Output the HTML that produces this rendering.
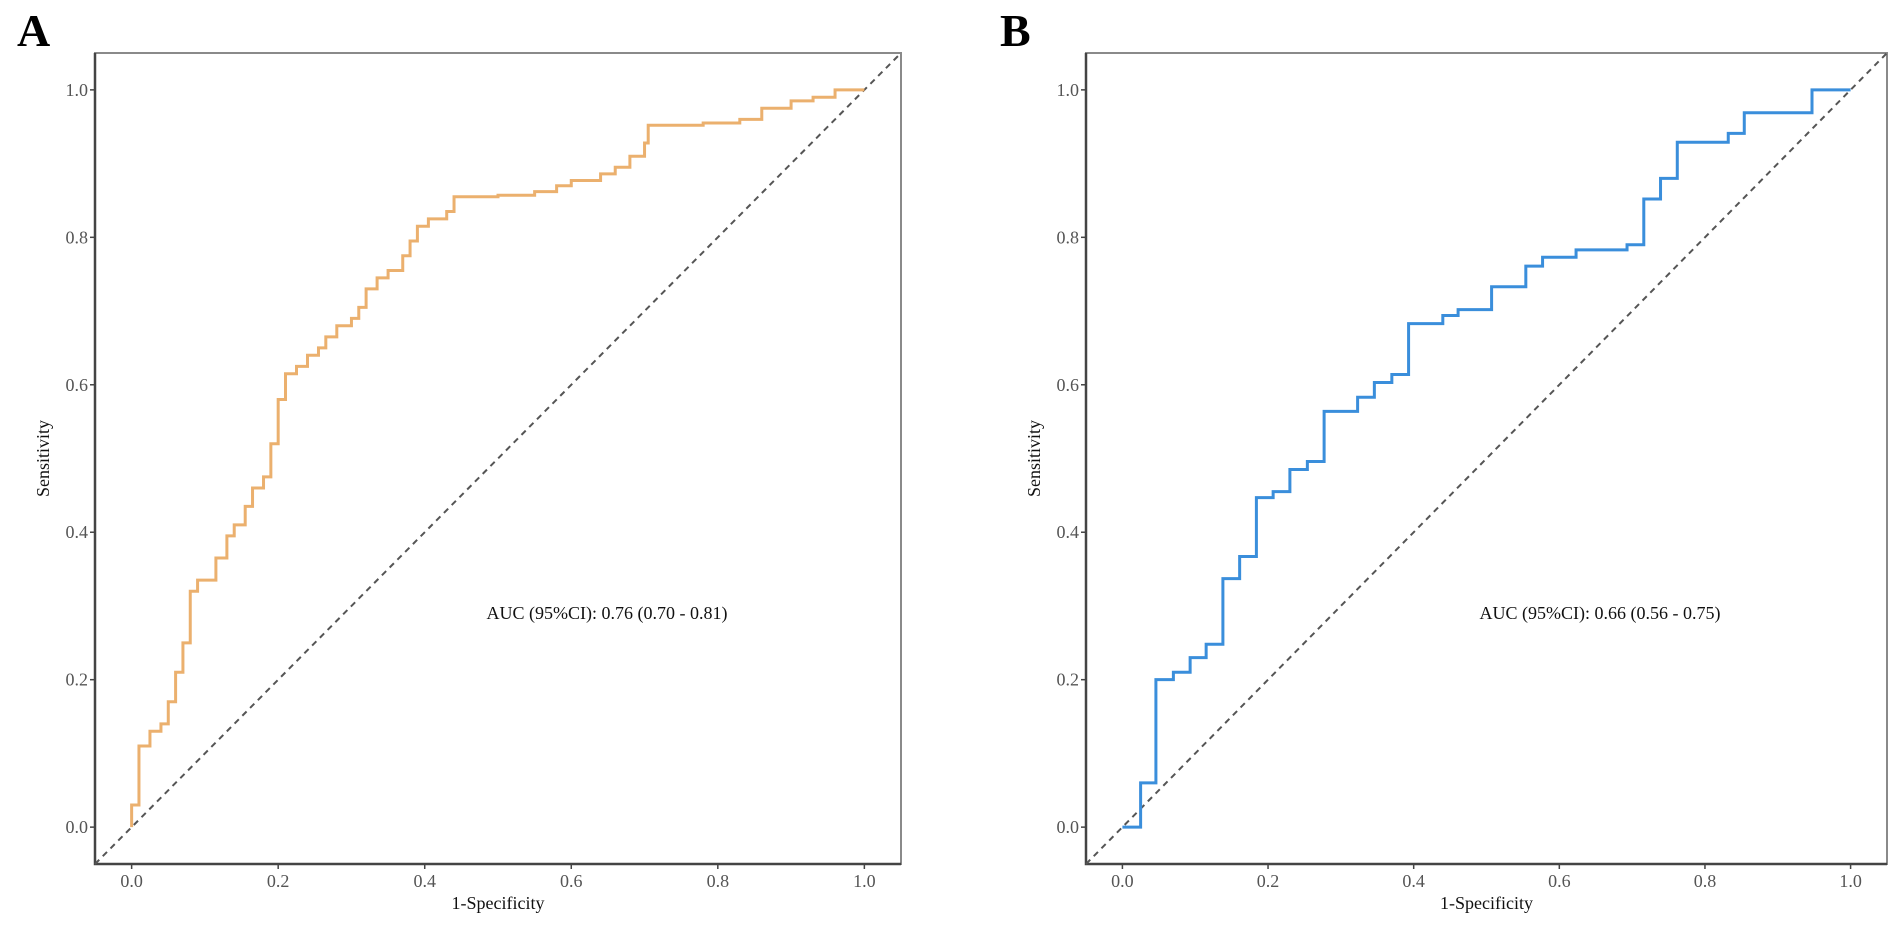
<!DOCTYPE html>
<html><head><meta charset="utf-8"><style>
html,body{margin:0;padding:0;background:#fff;}
svg{display:block;}
text{font-family:"Liberation Serif",serif;}
</style></head><body>
<svg id="chart" width="1902" height="926" viewBox="0 0 1902 926"></svg>
<script>
const tickValues = [0.0, 0.2, 0.4, 0.6, 0.8, 1.0];
const tickLabels = ["0.0", "0.2", "0.4", "0.6", "0.8", "1.0"];
const fprA = [0,0,0.01,0.025,0.04,0.05,0.06,0.07,0.08,0.09,0.115,0.13,0.14,0.155,0.165,0.18,0.19,0.2,0.21,0.225,0.24,0.255,0.265,0.28,0.3,0.31,0.32,0.335,0.35,0.37,0.38,0.39,0.405,0.43,0.44,0.5,0.55,0.58,0.6,0.64,0.66,0.68,0.7,0.705,0.78,0.83,0.86,0.9,0.93,0.96,1];
const tprA = [0,0.03,0.11,0.13,0.14,0.17,0.21,0.25,0.32,0.335,0.365,0.395,0.41,0.435,0.46,0.475,0.52,0.58,0.615,0.625,0.64,0.65,0.665,0.68,0.69,0.705,0.73,0.745,0.755,0.775,0.795,0.815,0.825,0.835,0.855,0.857,0.862,0.87,0.877,0.886,0.895,0.91,0.928,0.952,0.955,0.96,0.975,0.985,0.99,1.0,1.0];
const fprB = [0,0.025,0.046,0.07,0.093,0.115,0.138,0.161,0.184,0.207,0.23,0.254,0.277,0.323,0.346,0.37,0.393,0.44,0.461,0.507,0.554,0.577,0.623,0.693,0.716,0.739,0.762,0.832,0.854,0.947,1];
const tprB = [0,0.06,0.2,0.21,0.23,0.248,0.337,0.367,0.447,0.455,0.485,0.496,0.564,0.583,0.603,0.614,0.683,0.694,0.702,0.733,0.761,0.773,0.783,0.79,0.852,0.88,0.929,0.941,0.969,1.0,1.0];
const aucA = "AUC (95%CI): 0.76 (0.70 - 0.81)";
const aucB = "AUC (95%CI): 0.66 (0.56 - 0.75)";

const NS = "http://www.w3.org/2000/svg";
const svg = document.getElementById('chart');
function mk(tag, attrs, parent){
  const e = document.createElementNS(NS, tag);
  for (const k in attrs) e.setAttribute(k, attrs[k]);
  (parent||svg).appendChild(e);
  return e;
}
function panel(id, letter, letterX, L, W, fpr, tpr, color, auc, aucX){
  const T = 53, B = 864;
  const g = mk('g', {});
  
  
  const xs = v => L + (v + 0.05) / 1.1 * W;
  const ys = v => B - (v + 0.05) / 1.1 * (B - T);
  const lt = mk('text', {x: letterX, y: 46, 'font-size': 46, 'font-weight': 'bold', fill: '#000'}, g);
  lt.textContent = letter;
  
  
  const box = mk('rect', {x: L, y: T, width: W, height: B - T, fill: 'none', stroke: '#8a8a8a', 'stroke-width': 2}, g);
  
  
  const ax = mk('path', {d: `M${L},${T} L${L},${B} L${L+W},${B}`, fill: 'none', stroke: '#444', 'stroke-width': 2.5}, g);
  
  
  tickValues.forEach((v, i) => {
    const y = ys(v);
    mk('line', {x1: L - 5, x2: L, y1: y, y2: y, stroke: '#444', 'stroke-width': 1.5}, g);
    const t = mk('text', {x: L - 7, y: y + 6, 'text-anchor': 'end', 'font-size': 18, fill: '#555'}, g);
    t.textContent = tickLabels[i];
    
    
    const x = xs(v);
    mk('line', {x1: x, x2: x, y1: B, y2: B + 5, stroke: '#444', 'stroke-width': 1.5}, g);
    const tx = mk('text', {x: x, y: B + 23, 'text-anchor': 'middle', 'font-size': 18, fill: '#555'}, g);
    tx.textContent = tickLabels[i];
    
    
  });
  const yt = mk('text', {x: 0, y: 0, transform: `translate(${L - 46},${(T + B) / 2}) rotate(-90)`, 'text-anchor': 'middle', 'font-size': 18, fill: '#111'}, g);
  yt.textContent = 'Sensitivity';
  
  
  const xt = mk('text', {x: L + W / 2, y: B + 45, 'text-anchor': 'middle', 'font-size': 18, fill: '#111'}, g);
  xt.textContent = '1-Specificity';
  
  
  const diag = mk('line', {x1: xs(-0.05), y1: ys(-0.05), x2: xs(1.05), y2: ys(1.05), stroke: '#555', 'stroke-width': 2, 'stroke-dasharray': '6 5'}, g);
  
  
  let d = `M${xs(fpr[0])},${ys(tpr[0])}`;
  for (let i = 1; i < fpr.length; i++) d += ` H${xs(fpr[i])} V${ys(tpr[i])}`;
  const c = mk('path', {d: d, fill: 'none', stroke: color, 'stroke-width': 3, 'stroke-linejoin': 'miter'}, g);
  
  
  const at = mk('text', {x: aucX, y: 619, 'text-anchor': 'middle', 'font-size': 18, fill: '#111'}, g);
  at.textContent = auc;
  
  
}
panel('a', 'A', 17, 95, 806, fprA, tprA, '#EBB06E', aucA, 607);
panel('b', 'B', 1000, 1086, 801, fprB, tprB, '#3A8EDB', aucB, 1600);
</script>
</body></html>
